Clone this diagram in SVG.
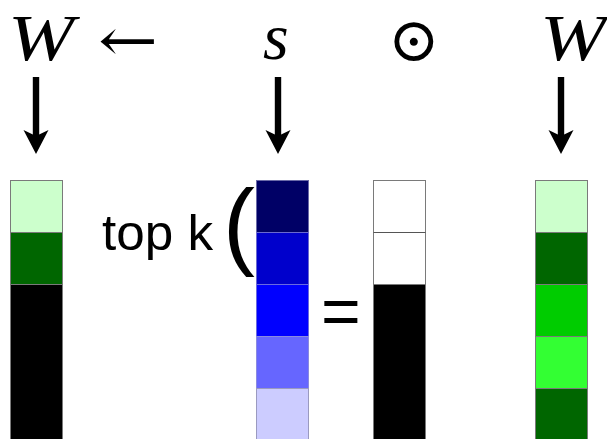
<svg xmlns="http://www.w3.org/2000/svg" width="607" height="439" viewBox="0 0 607 439">
<style>
.math{font-family:"Liberation Serif","DejaVu Serif",serif;font-style:italic;fill:#000}
.sym{font-family:"DejaVu Serif","Liberation Serif",serif;fill:#000}
.lbl{font-family:"Liberation Sans",Arial,sans-serif;fill:#000}
.cell{stroke:#7a7a7a;stroke-width:1}
.shaft{fill:#000}
</style>
<defs>
<g id="darrow">
<rect x="-3.2" y="77" width="6.4" height="60" class="shaft"/>
<polygon points="-12.5,130 0,136 12.5,130 0,154" fill="#000"/>
</g>
</defs>
<rect width="607" height="439" fill="#fff"/>
<g id="formula">
<text class="math" x="8" y="60" font-size="66" textLength="66" lengthAdjust="spacingAndGlyphs">W</text>
<text class="sym" x="98" y="61" font-size="60" textLength="60" lengthAdjust="spacingAndGlyphs">←</text>
<text class="math" x="263" y="59" font-size="66">s</text>
<text class="sym" x="388" y="61" font-size="62">⊙</text>
<text class="math" x="540" y="60" font-size="66" textLength="66" lengthAdjust="spacingAndGlyphs">W</text>
</g>
<g id="connectors">
<use href="#darrow" x="36"/>
<use href="#darrow" x="278"/>
<use href="#darrow" x="561"/>
</g>
<g id="col-W-new">
<rect class="cell" x="10.5" y="180.5" width="52" height="52" fill="#ccffcc"/>
<rect class="cell" x="10.5" y="232.5" width="52" height="52" fill="#006600"/>
<rect class="cell" x="10.5" y="284.5" width="52" height="160" fill="#000"/>
</g>
<g id="topk-label">
<text class="lbl" x="102" y="250" font-size="50" textLength="111" lengthAdjust="spacingAndGlyphs">top k</text>
<text class="lbl" x="223" y="257" font-size="96">(</text>
</g>
<g id="col-s">
<rect x="256.5" y="180.5" width="52" height="52" fill="#000066" stroke="#6a6aa8"/>
<rect x="256.5" y="232.5" width="52" height="52" fill="#0000cc" stroke="#6a6ad0"/>
<rect x="256.5" y="284.5" width="52" height="52" fill="#0000ff" stroke="#6a6ae0"/>
<rect x="256.5" y="336.5" width="52" height="52" fill="#6666ff" stroke="#8a8ae0"/>
<rect x="256.5" y="388.5" width="52" height="56" fill="#ccccff" stroke="#9a9ac0"/>
</g>
<g id="equals">
<text class="lbl" x="321" y="335" font-size="68">=</text>
</g>
<g id="col-mask">
<rect class="cell" x="373.5" y="180.5" width="52" height="52" fill="#fff" stroke="#999"/>
<rect class="cell" x="373.5" y="232.5" width="52" height="52" fill="#fff" stroke="#999"/>
<line x1="373.5" y1="232.5" x2="425.5" y2="232.5" stroke="#555"/>
<rect class="cell" x="373.5" y="284.5" width="52" height="160" fill="#000"/>
</g>
<g id="col-W">
<rect class="cell" x="535.5" y="180.5" width="52" height="52" fill="#ccffcc"/>
<rect class="cell" x="535.5" y="232.5" width="52" height="52" fill="#006600"/>
<rect class="cell" x="535.5" y="284.5" width="52" height="52" fill="#00cc00"/>
<rect class="cell" x="535.5" y="336.5" width="52" height="52" fill="#33ff33"/>
<rect class="cell" x="535.5" y="388.5" width="52" height="56" fill="#006600"/>
</g>
</svg>
